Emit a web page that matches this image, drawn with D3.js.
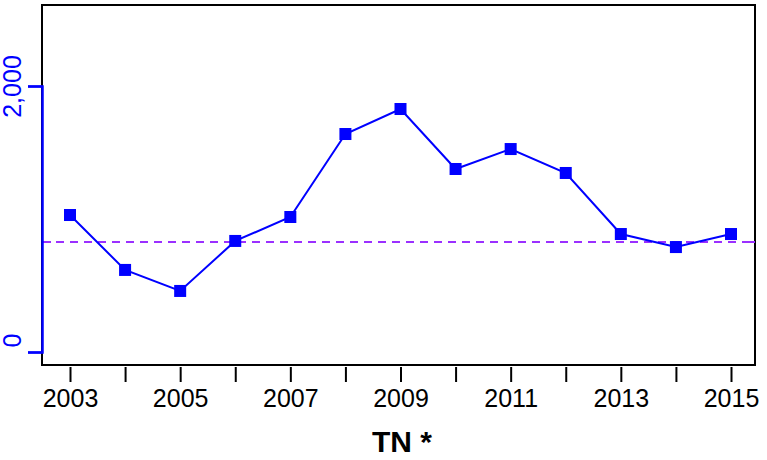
<!DOCTYPE html>
<html>
<head>
<meta charset="utf-8">
<script src="https://cdn.jsdelivr.net/npm/d3@7"></script>
<style>
  body { margin: 0; background: #fff; }
  svg { display: block; }
  text { font-family: "Liberation Sans", Arial, sans-serif; }
</style>
</head>
<body>
<svg id="svg" width="767" height="460"></svg>
<script>
// 年
const years = [2003, 2004, 2005, 2006, 2007, 2008, 2009, 2010, 2011, 2012, 2013, 2014, 2015];
// TN 値
const tnValues = [1030, 617, 459, 835, 1015, 1639, 1827, 1376, 1526, 1346, 887, 789, 887];
// 基準線
const refValue = 827;
const yTicks = [0, 2000];
const xTickLabels = [2003, 2005, 2007, 2009, 2011, 2013, 2015];

const svg = d3.select("#svg");
const blue = "#0000ff";
const purple = "#9b30ff";

const x = d3.scaleLinear().domain([2003, 2015]).range([70, 731]);
const y = d3.scaleLinear().domain([0, 2000]).range([352, 86]);

// 枠
svg.append("rect")
  .attr("x", 42).attr("y", 5).attr("width", 713).attr("height", 360)
  .attr("fill", "none").attr("stroke", "black").attr("stroke-width", 2);

// 基準線（破線）
svg.append("line")
  .attr("x1", 42).attr("x2", 755)
  .attr("y1", y(refValue)).attr("y2", y(refValue))
  .attr("stroke", purple).attr("stroke-width", 2).attr("stroke-dasharray", "8,6");
[[43, 51], [747, 755]].forEach(([a, b]) => {
  svg.append("line").attr("x1", a).attr("x2", b)
    .attr("y1", y(refValue)).attr("y2", y(refValue))
    .attr("stroke", purple).attr("stroke-width", 2);
});

// 左軸
const yAxis = svg.append("g").attr("transform", "translate(42,0)")
  .call(d3.axisLeft(y).tickValues(yTicks).tickSize(14).tickFormat(d3.format(",")));
yAxis.attr("font-family", null);
yAxis.select(".domain").attr("stroke", blue).attr("stroke-width", 2.5);
yAxis.selectAll(".tick line").attr("stroke", blue).attr("stroke-width", 2);
yAxis.selectAll(".tick text")
  .attr("fill", blue).attr("font-size", 25)
  .attr("x", 0).attr("dy", 0)
  .attr("text-anchor", "middle")
  .attr("transform", d => `translate(-21,${d === 0 ? -12 : 0}) rotate(-90)`);

// 下軸
const xAxis = svg.append("g").attr("transform", "translate(0,367)")
  .call(d3.axisBottom(x).tickValues(years).tickSize(15)
    .tickFormat(d => xTickLabels.includes(d) ? d : ""));
xAxis.attr("font-family", null);
xAxis.select(".domain").remove();
xAxis.selectAll(".tick line").attr("stroke", "black").attr("stroke-width", 2);
xAxis.selectAll(".tick text").attr("fill", "black").attr("font-size", 25)
  .attr("y", 40).attr("dy", 0);

// 軸タイトル
svg.append("text")
  .attr("x", 402).attr("y", 452).attr("text-anchor", "middle")
  .attr("font-size", 30).attr("font-weight", "bold").text("TN *");

// 折れ線
const line = d3.line().x((d, i) => x(years[i])).y(d => y(d));
svg.append("path").datum(tnValues)
  .attr("d", line).attr("fill", "none")
  .attr("stroke", blue).attr("stroke-width", 2);
svg.selectAll(".pt").data(tnValues).enter().append("rect")
  .attr("class", "pt")
  .attr("x", (d, i) => x(years[i]) - 6).attr("y", d => y(d) - 6)
  .attr("width", 12).attr("height", 12).attr("fill", blue);

// 右側の切れたラベル
const right = svg.append("text")
  .attr("transform", "translate(771,20) rotate(90)")
  .attr("font-size", 18);
right.append("tspan").attr("fill", "black").text("* TDP *  TP ");
right.append("tspan").attr("fill", purple).attr("font-weight", "bold").text("TP (MT) ");
right.append("tspan").attr("fill", purple).text("· · · · ");
right.append("tspan").attr("fill", purple).attr("font-weight", "bold").text("TP");
</script>
</body>
</html>
